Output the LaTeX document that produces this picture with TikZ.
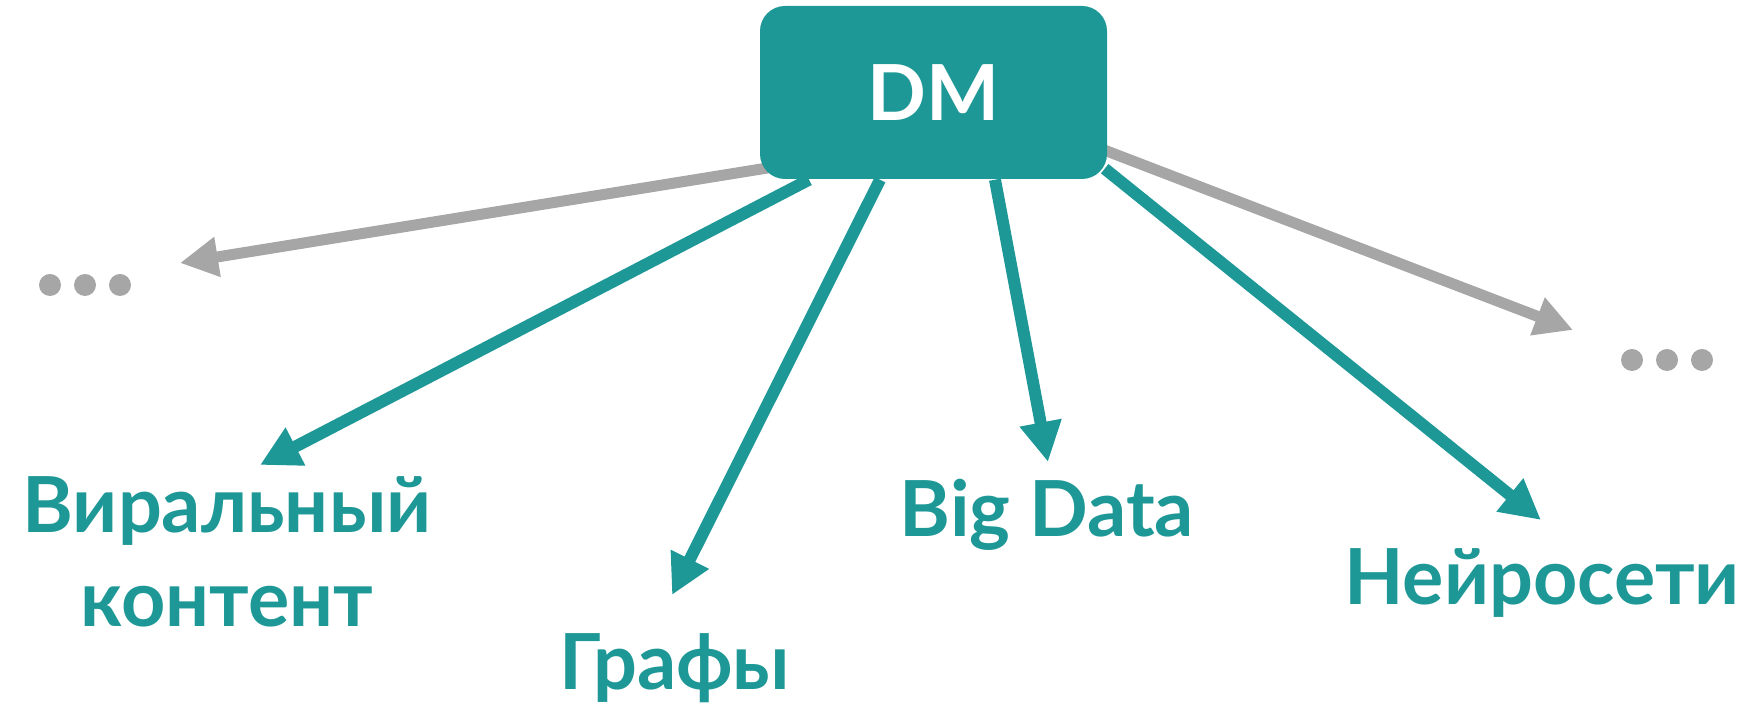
\documentclass[tikz,border=0pt]{standalone}
\usepackage{fontspec}
\setmainfont{Lato}
\usetikzlibrary{arrows.meta, backgrounds}

\definecolor{dmteal}{HTML}{1E9896}
\definecolor{dmgray}{HTML}{A6A6A6}

\begin{document}
\begin{tikzpicture}[
    arrow/.style = {draw=dmteal, line width=0.12cm, -{Triangle[length=0.4cm, width=0.4cm]}},
    grayarrow/.style = {draw=dmgray, line width=0.11cm, -{Triangle[length=0.38cm, width=0.38cm]}},
    topic/.style = {rectangle, rounded corners=0.25cm, fill=dmteal, text=white,
      minimum width=3.47cm, minimum height=1.73cm, font=\fontsize{22}{27}\selectfont\bfseries},
    area/.style = {anchor=base, text=dmteal, align=center, inner sep=0pt,
      font=\fontsize{22}{27}\selectfont\bfseries}
  ]
  \useasboundingbox (0,0) rectangle (17.57,-7.05);

  \node (dm) [topic] at (9.335,-0.925) {DM};

  \node (viral) [area] at (2.27,-6.27) {Виральный\\контент};
  \node (graphs) [area] at (6.75,-6.90) {Графы};
  \node (bigdata) [area] at (10.47,-5.37) {Big Data};
  \node (neuro) [area] at (15.42,-6.05) {Нейросети};

  % ends of the arrows
  \coordinate (viraltip) at (2.60,-4.65);
  \coordinate (graphstip) at (6.72,-5.95);
  \coordinate (bigdatatip) at (10.48,-4.62);
  \coordinate (neurotip) at (15.41,-5.20);
  \coordinate (lefttip) at (1.80,-2.63);
  \coordinate (righttip) at (15.73,-3.30);

  % more topics
  \foreach \x in {0.50, 0.85, 1.20}
    \fill[dmgray] (\x,-2.85) circle (0.11);
  \foreach \x in {16.32, 16.67, 17.02}
    \fill[dmgray] (\x,-3.60) circle (0.11);

  \begin{scope}[on background layer]
    \draw[grayarrow] ([xshift=0.10cm, yshift=0.12cm]dm.south west) -- (lefttip);
    \draw[grayarrow] ([xshift=-0.07cm, yshift=0.31cm]dm.south east) -- (righttip);
    \draw[arrow] ([xshift=-1.245cm]dm.south) -- (viraltip);
    \draw[arrow] ([xshift=-0.535cm]dm.south) -- (graphstip);
    \draw[arrow] ([xshift=0.615cm]dm.south) -- (bigdatatip);
    \draw[arrow] ([xshift=-0.03cm, yshift=0.11cm]dm.south east) -- (neurotip);
  \end{scope}
\end{tikzpicture}
\end{document}
